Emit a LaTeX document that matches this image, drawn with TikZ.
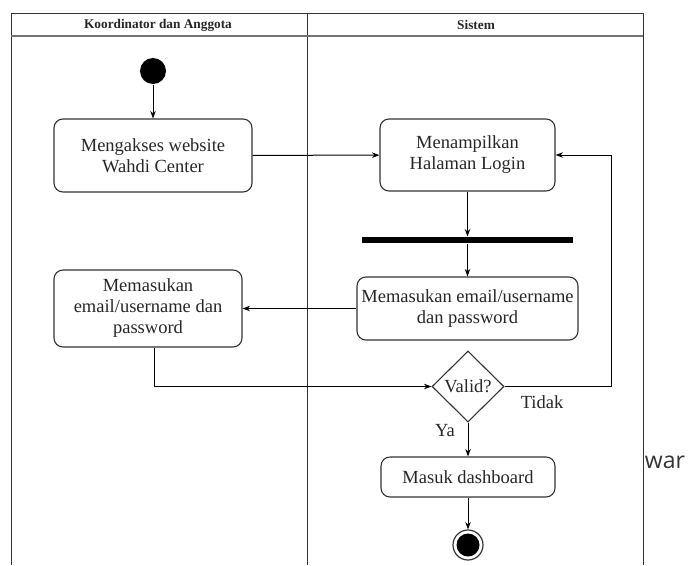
\documentclass[tikz,border=0pt]{standalone}
\usepackage{fontspec}
\setmainfont{Liberation Serif}
\newfontfamily\uifont{Open Sans}
\usepackage{xcolor}
\usetikzlibrary{arrows.meta}
\usetikzlibrary{shapes.geometric, calc}
\definecolor{trait}{rgb}{0.2, 0.2, 0.2}
\definecolor{entete}{rgb}{0.45, 0.45, 0.45}

\tikzset{
  aktivitas/.style={draw=trait, line width=1.1pt, rounded corners=9pt, align=center,
    inner sep=0pt, text=black!85, font=\fontsize{18.5}{21}\selectfont},
  keputusan/.style={diamond, draw=trait, line width=1.1pt, inner sep=0pt,
    minimum width=72pt, minimum height=71pt, text=black!85, font=\fontsize{18.5}{21}\selectfont},
  label/.style={text=black!85, font=\fontsize{18.5}{21}\selectfont},
  lajur/.style={font=\bfseries\fontsize{13.3}{15}\selectfont, text=black!85}
}

\begin{document}
\begin{tikzpicture}[x=1pt, y=-1pt, >={Stealth[length=7.5pt, width=5.5pt]}, line width=1pt]
        \useasboundingbox (0,0) rectangle (692,565);

        % Tracer les couloirs
        \draw[trait] (11,565) -- (11,13) -- (643,13) -- (643,565);
        \draw[trait] (307,13) -- (307,565);
        \draw[entete, line width=2pt] (11,36) -- (643,36);
        \node[lajur] (koord) at (158,25) {Koordinator dan Anggota};
        \node[lajur] (sistem) at (476,25) {Sistem};

        % Noeud initial
        \node[circle, fill=black, minimum size=26pt, inner sep=0pt] (mulai) at (153,71) {};

        % Activites
        \node[aktivitas, minimum width=198pt, minimum height=73pt] (akses) at (153,155.5) {Mengakses website\\Wahdi Center};
        \node[aktivitas, minimum width=175pt, minimum height=72pt] (login) at (467.5,155) {Menampilkan\\Halaman Login};
        \node[fill=black, minimum width=211pt, minimum height=6pt, inner sep=0pt] (garis) at (467.5,240) {};
        \node[aktivitas, minimum width=221pt, minimum height=63pt] (isiform) at (467.5,308.5) {Memasukan email/username\\dan password};
        \node[aktivitas, minimum width=188pt, minimum height=77pt] (isidata) at (148,308.5) {Memasukan\\email/username dan\\password};
        \node[keputusan] (valid) at (468,386.5) {Valid?};
        \node[aktivitas, minimum width=174pt, minimum height=40pt] (dashboard) at (468,477) {Masuk dashboard};

        % Noeud final
        \node[circle, draw=trait, line width=1.2pt, minimum size=30pt, inner sep=0pt,
          path picture={\fill[black] (path picture bounding box.center) circle (11.5pt);}] (selesai) at (468,545) {};

        % Fleches
        \draw[->] (mulai) -- (akses);
        \draw[->] (akses) -- (login);
        \draw[->] (login) -- (garis);
        \draw[->] (garis) -- (isiform);
        \draw[->] (isiform) -- (isidata);
        \draw[->] ([xshift=6pt]isidata.south) |- (valid.west);
        \coordinate (balik) at (611,155);
        \draw[->] (valid.east) -| (balik) -- (login.east);
        \draw[->] (valid) -- (dashboard);
        \draw[->] (dashboard) -- (selesai);

        % Etiquettes
        \node[label] (tidak) at (542,402) {Tidak};
        \node[label] (ya) at (445,431) {Ya};
        \node[font=\uifont\fontsize{23}{26}\selectfont, text=black!80] (war) at (665,462) {war};
    \end{tikzpicture}
\end{document}
